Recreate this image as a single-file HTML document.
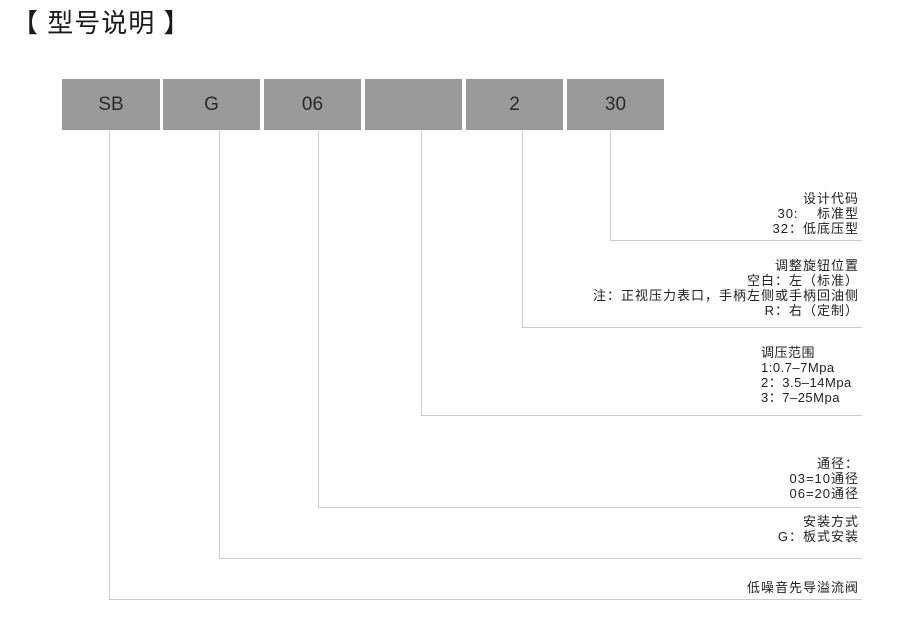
<!DOCTYPE html>
<html><head><meta charset="utf-8"><style>
body{margin:0;width:900px;height:617px;background:#fff;position:relative;overflow:hidden;font-family:"Liberation Sans","Noto Sans CJK SC",sans-serif;color:#222}
.t{position:absolute;font-size:26px;left:12px;top:3px;color:#1a1a1a;letter-spacing:1px}
.b{position:absolute;top:79px;height:51px;background:#9a9a9a;color:#2a2a2a;font-size:19px;line-height:51px;text-align:center}
.v{position:absolute;width:1px;background:#ccc;top:131px}
.h{position:absolute;height:1px;background:#ccc;right:38px}
.r{position:absolute;right:41px;font-size:13px;line-height:15px;text-align:right;letter-spacing:1px;white-space:nowrap}
.l{position:absolute;left:761px;font-size:13px;line-height:15px;letter-spacing:0.5px;white-space:nowrap}
</style></head><body>
<div class="t">【 型号说明 】</div>
<div class="b" style="left:62px;width:98px">SB</div>
<div class="b" style="left:163px;width:97px">G</div>
<div class="b" style="left:264px;width:97px">06</div>
<div class="b" style="left:365px;width:97px"></div>
<div class="b" style="left:466px;width:97px">2</div>
<div class="b" style="left:567px;width:97px">30</div>
<div class="v" style="left:109px;height:468px"></div><div class="h" style="left:109px;top:599px"></div>
<div class="v" style="left:219px;height:427px"></div><div class="h" style="left:219px;top:558px"></div>
<div class="v" style="left:318px;height:376px"></div><div class="h" style="left:318px;top:507px"></div>
<div class="v" style="left:421px;height:284px"></div><div class="h" style="left:421px;top:415px"></div>
<div class="v" style="left:522px;height:196px"></div><div class="h" style="left:522px;top:327px"></div>
<div class="v" style="left:610px;height:109px"></div><div class="h" style="left:610px;top:240px"></div>
<div class="r" style="top:191px">设计代码<br>30:&nbsp;&nbsp;&nbsp;&nbsp;标准型<br>32：低底压型</div>
<div class="r" style="top:258px">调整旋钮位置<br>空白：左（标准）<br>注：正视压力表口，手柄左侧或手柄回油侧<br>R：右（定制）</div>
<div class="l" style="top:345px">调压范围<br>1:0.7–7Mpa<br>2：3.5–14Mpa<br>3：7–25Mpa</div>
<div class="r" style="top:456px">通径：<br>03=10通径<br>06=20通径</div>
<div class="r" style="top:514px">安装方式<br>G：板式安装</div>
<div class="r" style="top:580px">低噪音先导溢流阀</div>
</body></html>
